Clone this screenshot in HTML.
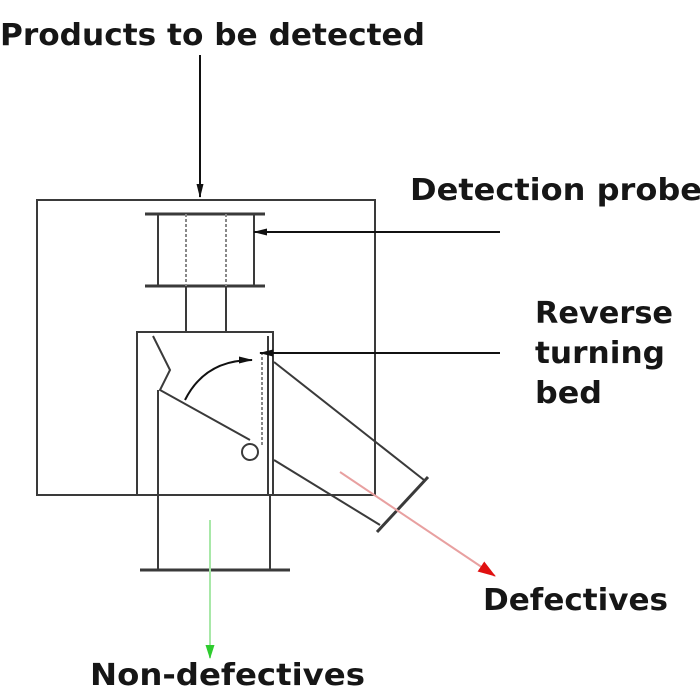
<!DOCTYPE html>
<html><head><meta charset="utf-8"><style>html,body{margin:0;padding:0;background:#fff}svg{display:block}</style></head>
<body>
<svg width="700" height="700" viewBox="0 0 700 700" xmlns="http://www.w3.org/2000/svg" font-family="DejaVu Sans, Liberation Sans, sans-serif" font-weight="bold" fill="#161616">
<defs>
<marker id="ab" markerWidth="14" markerHeight="10" refX="13" refY="5" orient="auto" markerUnits="userSpaceOnUse"><path d="M0,1.5 L14,5 L0,8.5z" fill="#111"/></marker>
<marker id="ar" markerWidth="18" markerHeight="14" refX="17" refY="7" orient="auto" markerUnits="userSpaceOnUse"><path d="M0,1 L18,7 L0,13z" fill="#e01010"/></marker>
<marker id="ag" markerWidth="14" markerHeight="12" refX="13" refY="6" orient="auto" markerUnits="userSpaceOnUse"><path d="M0,1.5 L14,6 L0,10.5z" fill="#2ecc2e"/></marker>
</defs>
<text x="0" y="45" font-size="30" textLength="425" lengthAdjust="spacingAndGlyphs">Products to be detected</text>
<text x="410" y="200" font-size="30" textLength="292" lengthAdjust="spacingAndGlyphs">Detection probe</text>
<text x="535" y="323" font-size="30" textLength="138" lengthAdjust="spacingAndGlyphs">Reverse</text>
<text x="535" y="363" font-size="30" textLength="130" lengthAdjust="spacingAndGlyphs">turning</text>
<text x="535" y="403" font-size="30" textLength="67" lengthAdjust="spacingAndGlyphs">bed</text>
<text x="483" y="610" font-size="30" textLength="185" lengthAdjust="spacingAndGlyphs">Defectives</text>
<text x="90" y="685" font-size="30" textLength="275" lengthAdjust="spacingAndGlyphs">Non-defectives</text>
<g stroke="#3a3a3a" stroke-width="2" fill="none">
<line x1="200" y1="55" x2="200" y2="197" stroke="#111" marker-end="url(#ab)"/>
<rect x="37" y="200" width="338" height="295"/>
<line x1="145" y1="214" x2="265" y2="214" stroke-width="3"/>
<line x1="145" y1="286" x2="265" y2="286" stroke-width="3"/>
<line x1="158" y1="214" x2="158" y2="286"/>
<line x1="254" y1="214" x2="254" y2="286"/>
<line x1="186" y1="214" x2="186" y2="286" stroke-dasharray="3,2" stroke="#888"/>
<line x1="226" y1="214" x2="226" y2="286" stroke-dasharray="3,2" stroke="#888"/>
<line x1="186" y1="286" x2="186" y2="332"/>
<line x1="226" y1="286" x2="226" y2="332"/>
<line x1="500" y1="232" x2="254" y2="232" stroke="#111" marker-end="url(#ab)"/>
<polyline points="137,495 137,332 273,332 273,495"/>
<line x1="268" y1="336" x2="268" y2="495"/>
<line x1="130" y1="495" x2="320" y2="495"/>
<line x1="158" y1="390" x2="158" y2="570"/>
<line x1="270" y1="495" x2="270" y2="570"/>
<line x1="140" y1="570" x2="290" y2="570" stroke-width="3"/>
<polyline points="153,336 170,370 160,390 250,440"/>
<circle cx="250" cy="452" r="8"/>
<line x1="262" y1="352" x2="262" y2="446" stroke-dasharray="3,2" stroke="#888"/>
<line x1="274" y1="362" x2="424" y2="480"/>
<line x1="274" y1="460" x2="380" y2="525"/>
<line x1="377" y1="532" x2="428" y2="477" stroke-width="3"/>
<path d="M185,400 Q205,360 252,360" stroke="#111" marker-end="url(#ab)"/>
<line x1="500" y1="353" x2="260" y2="353" stroke="#111" marker-end="url(#ab)"/>
<line x1="340" y1="472" x2="495" y2="576" stroke="#e8a0a0" marker-end="url(#ar)"/>
<line x1="210" y1="520" x2="210" y2="658" stroke="#a8e8a8" marker-end="url(#ag)"/>
</g>
</svg>
</body></html>
